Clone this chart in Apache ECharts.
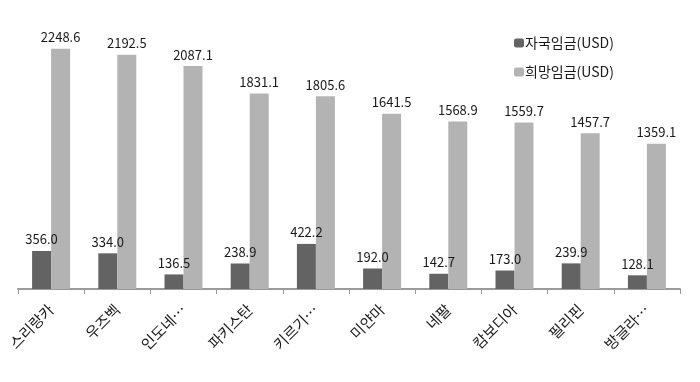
<!DOCTYPE html>
<html><head><meta charset="utf-8">
<script src="https://cdn.jsdelivr.net/npm/echarts@6/dist/echarts.min.js"></script>
<style>html,body{margin:0;padding:0;background:#fff}#c{width:700px;height:382px}</style>
</head><body><div id="c"></div>
<script>
const categories = ['스리랑카','우즈벡','인도네…','파키스탄','키르기…','미얀마','네팔','캄보디아','필리핀','방글라…'];
const homeWage = [356.0, 334.0, 136.5, 238.9, 422.2, 192.0, 142.7, 173.0, 239.9, 128.1];
const desiredWage = [2248.6, 2192.5, 2087.1, 1831.1, 1805.6, 1641.5, 1568.9, 1559.7, 1457.7, 1359.1];
const seriesNames = ['자국임금(USD)', '희망임금(USD)'];

const fontFam = '"Liberation Sans Narrow", "Noto Sans CJK KR", sans-serif';
const chart = echarts.init(document.getElementById('c'));
const lbl = {show:true, position:'top', distance:5, color:'#1a1a1a', fontSize:13, fontFamily:fontFam,
  formatter: p => p.value.toFixed(1)};
chart.setOption({
  animation:false,
  grid:{left:18, right:20, top:22, bottom:93},
  legend:{orient:'vertical', left:509, top:31, itemGap:15, itemWidth:10, itemHeight:9,
    textStyle:{fontSize:14, color:'#1a1a1a', fontFamily:fontFam, padding:[0,0,0,-4]},
    data:seriesNames},
  xAxis:{type:'category', data:categories,
    axisLine:{lineStyle:{color:'#9a9a9a', width:2}},
    axisTick:{show:true, length:5, lineStyle:{color:'#9a9a9a'}},
    axisLabel:{rotate:45, margin:18, fontSize:15, color:'#1a1a1a', fontFamily:fontFam}},
  yAxis:{type:'value', min:0, max:2500, show:false, splitLine:{show:false}},
  series:[
    {name:seriesNames[0], type:'bar', data:homeWage, barWidth:19, barGap:'0%',
     itemStyle:{color:'#636363'}, label:lbl},
    {name:seriesNames[1], type:'bar', data:desiredWage, barWidth:19, barGap:'0%',
     itemStyle:{color:'#b3b3b3'}, label:lbl}
  ]
});
</script></body></html>
